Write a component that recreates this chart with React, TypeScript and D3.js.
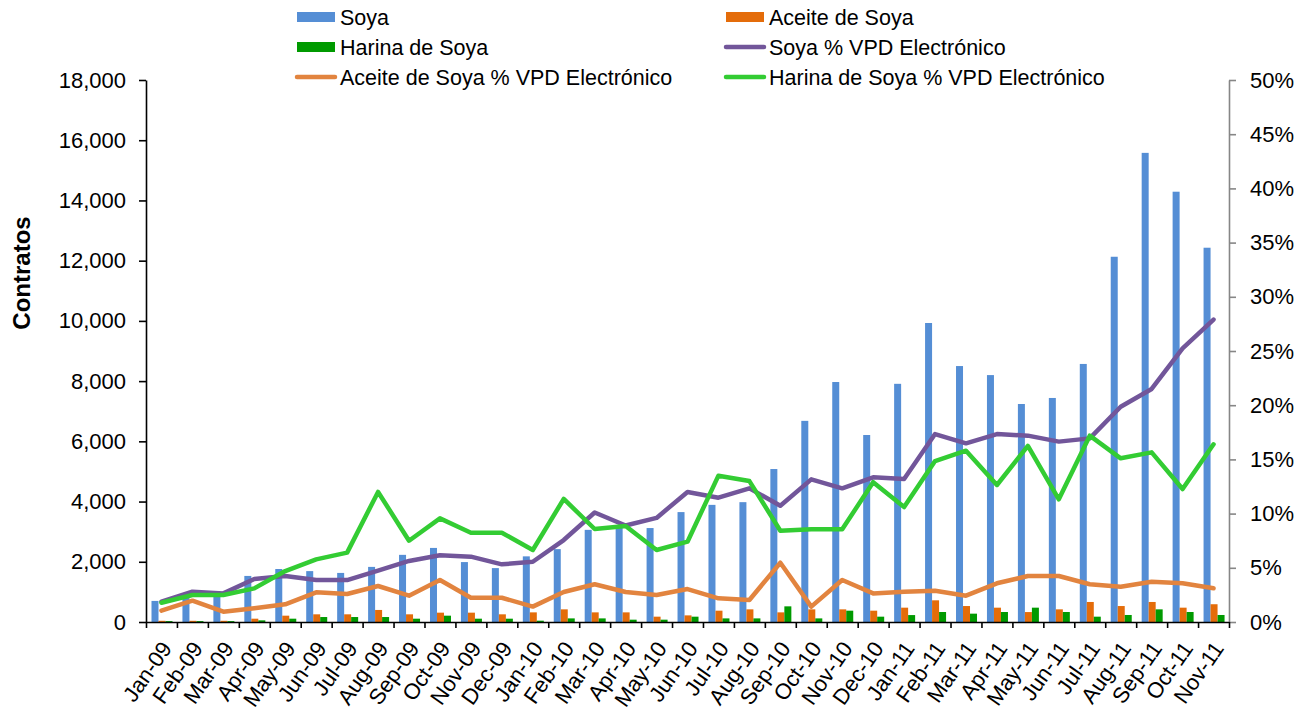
import React, { useEffect, useRef } from "react";
import * as d3 from "d3";

const months = ["Jan-09","Feb-09","Mar-09","Apr-09","May-09","Jun-09","Jul-09","Aug-09","Sep-09","Oct-09","Nov-09","Dec-09",
  "Jan-10","Feb-10","Mar-10","Apr-10","May-10","Jun-10","Jul-10","Aug-10","Sep-10","Oct-10","Nov-10","Dec-10",
  "Jan-11","Feb-11","Mar-11","Apr-11","May-11","Jun-11","Jul-11","Aug-11","Sep-11","Oct-11","Nov-11"];

const soya = [700, 900, 830, 1530, 1760, 1690, 1630, 1830, 2230, 2460, 1990, 1790,
  2180, 2420, 3060, 3130, 3120, 3650, 3890, 3980, 5080, 6680, 7970, 6210,
  7910, 9930, 8500, 8200, 7240, 7440, 8570, 12130, 15580, 14290, 12430];
const aceite = [40, 40, 40, 110, 210, 255, 255, 400, 255, 310, 310, 255,
  320, 420, 320, 320, 177, 220, 376, 420, 320, 420, 420, 376,
  476, 720, 530, 476, 330, 420, 665, 530, 665, 476, 590];
const harina = [30, 30, 30, 55, 110, 165, 165, 165, 110, 210, 110, 110,
  44, 120, 120, 77, 77, 177, 120, 120, 520, 120, 376, 177,
  230, 332, 277, 332, 476, 332, 177, 233, 420, 332, 233];

const soyaPct = [1.87, 2.8, 2.64, 3.97, 4.24, 3.87, 3.87, 4.74, 5.63, 6.15, 6.03, 5.32,
  5.56, 7.56, 10.1, 8.9, 9.6, 12.0, 11.47, 12.33, 10.73, 13.16, 12.33, 13.35,
  13.2, 17.34, 16.48, 17.34, 17.19, 16.64, 16.94, 19.86, 21.5, 25.25, 27.9];
const aceitePct = [1.05, 1.97, 0.95, 1.26, 1.63, 2.74, 2.58, 3.32, 2.43, 3.87, 2.24, 2.24,
  1.42, 2.77, 3.48, 2.77, 2.49, 3.04, 2.18, 2.03, 5.47, 1.42, 3.87, 2.64,
  2.8, 2.89, 2.43, 3.57, 4.24, 4.24, 3.48, 3.26, 3.72, 3.57, 3.11];
const harinaPct = [1.78, 2.49, 2.49, 3.1, 4.7, 5.78, 6.4, 12.0, 7.5, 9.56, 8.24, 8.24,
  6.64, 11.35, 8.58, 8.86, 6.64, 7.41, 13.5, 13.0, 8.42, 8.55, 8.55, 12.9,
  10.6, 14.85, 15.8, 12.64, 16.24, 11.32, 17.19, 15.1, 15.65, 12.27, 16.39];

const leftTicks = [0, 2000, 4000, 6000, 8000, 10000, 12000, 14000, 16000, 18000];
const rightTicks = [0, 5, 10, 15, 20, 25, 30, 35, 40, 45, 50];

const barSeries = [
  { name: "Soya", values: soya, color: "#558ED5" },
  { name: "Aceite de Soya", values: aceite, color: "#E46C0A" },
  { name: "Harina de Soya", values: harina, color: "#009A00" },
];
const lineSeries = [
  { name: "Soya % VPD Electrónico", values: soyaPct, color: "#72569A" },
  { name: "Aceite de Soya % VPD Electrónico", values: aceitePct, color: "#E2843F" },
  { name: "Harina de Soya % VPD Electrónico", values: harinaPct, color: "#33CC33" },
];

const legendItems = [
  { name: "Soya", color: "#558ED5", type: "rect" },
  { name: "Aceite de Soya", color: "#E46C0A", type: "rect" },
  { name: "Harina de Soya", color: "#009A00", type: "rect" },
  { name: "Soya % VPD Electrónico", color: "#72569A", type: "line" },
  { name: "Aceite de Soya % VPD Electrónico", color: "#E2843F", type: "line" },
  { name: "Harina de Soya % VPD Electrónico", color: "#33CC33", type: "line" },
];

const FONT = "'Liberation Sans', Arial, sans-serif";

export default function App() {
  const ref = useRef<SVGSVGElement>(null);
  useEffect(() => {
    const svg = d3.select(ref.current);
    svg.selectAll("*").remove();
    const L = 146, R = 1229, T = 80, B = 622;

    const x = d3.scaleBand<string>().domain(months).range([L, R]).paddingInner(0).paddingOuter(0);
    const xEdge = d3.scaleLinear().domain([0, months.length]).range([L, R]);
    const x1 = d3.scaleBand<string>().domain(barSeries.map(s => s.name)).range([5.5, 26.5]).padding(0);
    const y = d3.scaleLinear().domain([0, 18000]).range([B, T]);
    const y2 = d3.scaleLinear().domain([0, 50]).range([B, T]);

    // bars
    const gBars = svg.append("g");
    barSeries.forEach(s => {
      gBars.selectAll(null).data(s.values).enter().append("rect")
        .attr("x", (d, i) => (x(months[i]) as number) + (x1(s.name) as number))
        .attr("y", d => y(d))
        .attr("width", x1.bandwidth())
        .attr("height", d => B - y(d))
        .attr("fill", s.color);
    });

    // lines
    const line = d3.line<number>()
      .x((d, i) => (x(months[i]) as number) + x.bandwidth() / 2)
      .y(d => y2(d));
    lineSeries.forEach(s => {
      svg.append("path").attr("d", line(s.values) as string)
        .attr("fill", "none").attr("stroke", s.color).attr("stroke-width", 4.5)
        .attr("stroke-linejoin", "round").attr("stroke-linecap", "round");
    });

    // left axis
    const gl = svg.append("g").attr("transform", `translate(${L},0)`)
      .call(d3.axisLeft(y).tickValues(leftTicks).tickFormat(d3.format(",")).tickSize(7).tickSizeOuter(0).tickPadding(13));
    gl.selectAll("path,line").attr("stroke", "#000").attr("stroke-width", 1.6);
    gl.selectAll("text").attr("font-family", FONT).attr("font-size", 22).attr("fill", "#000");

    // right axis
    const gr = svg.append("g").attr("transform", `translate(${R},0)`)
      .call(d3.axisRight(y2).tickValues(rightTicks).tickFormat(d => `${d}%`).tickSize(7).tickSizeOuter(0).tickPadding(14));
    gr.selectAll("path,line").attr("stroke", "#868686").attr("stroke-width", 1.6);
    gr.selectAll("text").attr("font-family", FONT).attr("font-size", 22).attr("fill", "#000");

    // bottom axis
    const gb = svg.append("g").attr("transform", `translate(0,${B})`)
      .call(d3.axisBottom(xEdge).tickValues(d3.range(months.length + 1)).tickFormat(() => "").tickSize(6).tickSizeOuter(0));
    gb.selectAll("path,line").attr("stroke", "#000").attr("stroke-width", 1.6);

    // x labels
    svg.append("g").selectAll("text").data(months).enter().append("text")
      .attr("transform", d => `translate(${(x(d) as number) + x.bandwidth() / 2 + 5},${B + 22}) rotate(-55)`)
      .attr("text-anchor", "end").attr("dy", "0.35em")
      .attr("font-family", FONT).attr("font-size", 22).attr("fill", "#000")
      .text(d => d);

    // y title
    svg.append("text").attr("transform", `translate(30,273) rotate(-90)`)
      .attr("text-anchor", "middle").attr("font-family", FONT).attr("font-size", 24).attr("font-weight", "bold")
      .text("Contratos");

    // legend
    const colX = [297, 726];
    const rowY = [17, 47, 77];
    legendItems.forEach((it, i) => {
      const cx = colX[i % 2], cy = rowY[Math.floor(i / 2)];
      const g = svg.append("g").attr("transform", `translate(${cx},${cy})`);
      if (it.type === "rect") g.append("rect").attr("x", 0).attr("y", -5).attr("width", 38).attr("height", 10).attr("fill", it.color);
      else g.append("line").attr("x1", 0).attr("x2", 38).attr("y1", 0).attr("y2", 0).attr("stroke", it.color).attr("stroke-width", 4.5).attr("stroke-linecap", "round");
      g.append("text").attr("x", 43).attr("y", 0).attr("dy", "0.35em").attr("font-family", FONT).attr("font-size", 21.5).text(it.name);
    });
  }, []);
  return <svg ref={ref} width={1313} height={721} style={{ position: "absolute", left: 0, top: 0, background: "#fff" }} />;
}
